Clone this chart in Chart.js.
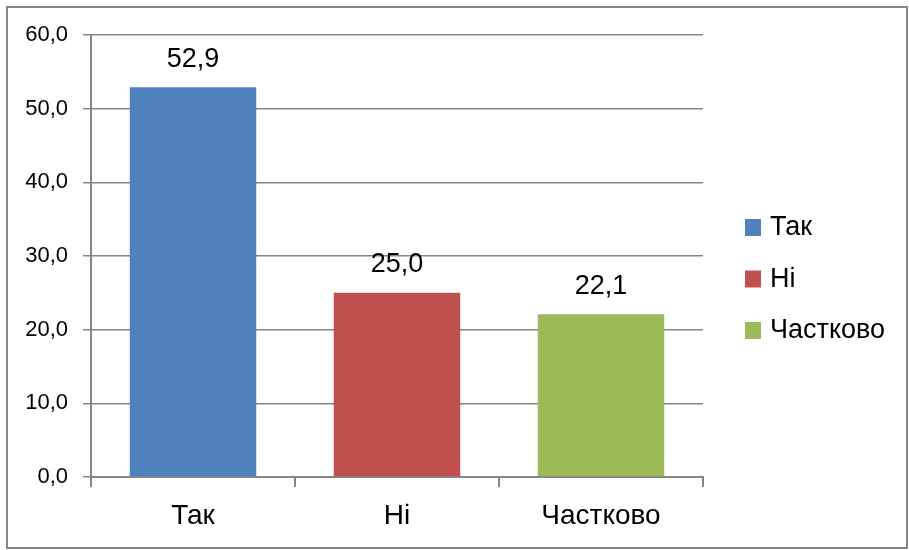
<!DOCTYPE html>
<html>
<head>
<meta charset="utf-8">
<script src="https://cdn.jsdelivr.net/npm/chart.js@4.4.0/dist/chart.umd.min.js"></script>
<style>
  html, body { margin: 0; padding: 0; background: #fff; }
  #wrap { width: 909px; height: 550px; position: relative; }
</style>
</head>
<body>
<div id="wrap"><canvas id="answersChart" width="909" height="550"></canvas></div>
<script>
// data
var categories = ['Так', 'Ні', 'Частково'];
var percentValues = [52.9, 25.0, 22.1];
var barColors = ['#4F81BD', '#C0504D', '#9BBB59'];
var yTicks = [0, 10, 20, 30, 40, 50, 60];

var FONT = '"Liberation Sans", Arial, sans-serif';
var GRID = '#868686';

function fmt(v) {
    return v.toFixed(1).replace('.', ',');
}

// frame, value labels, legend
var extras = {
    id: 'extras',
    beforeDraw: function (chart) {
        var c = chart.ctx;
        c.save();
        c.fillStyle = '#fff';
        c.fillRect(0, 0, chart.width, chart.height);
        c.strokeStyle = GRID;
        c.lineWidth = 2;
        c.strokeRect(7, 7, 900, 541);
        c.restore();
    },
    afterDatasetsDraw: function (chart) {
        var c = chart.ctx;
        var meta = chart.getDatasetMeta(0);
        c.save();
        c.font = '27px ' + FONT;
        c.fillStyle = '#000';
        c.textAlign = 'center';
        c.textBaseline = 'middle';
        meta.data.forEach(function (bar, i) {
            c.fillText(fmt(percentValues[i]), bar.x, bar.y - 28);
        });

        // legend
        c.font = '27px ' + FONT;
        c.textAlign = 'left';
        var y0 = 227, step = 51.5;
        categories.forEach(function (name, i) {
            var y = y0 + i * step;
            c.fillStyle = barColors[i];
            c.fillRect(745, y - 8, 16, 17);
            c.fillStyle = '#000';
            c.fillText(name, 770, y + 1);
        });
        c.restore();
    }
};

var ctx = document.getElementById('answersChart').getContext('2d');
var answersChart = new Chart(ctx, {
    type: 'bar',
    data: {
        labels: categories,
        datasets: [{
            data: percentValues,
            backgroundColor: barColors,
            categoryPercentage: 1,
            barPercentage: 0.62
        }]
    },
    options: {
        responsive: false,
        animation: false,
        layout: {
            padding: { left: 0, top: 35, right: 206, bottom: 0 }
        },
        scales: {
            x: {
                grid: {
                    display: true,
                    drawOnChartArea: false,
                    offset: true,
                    tickLength: 10,
                    color: GRID,
                    lineWidth: 2
                },
                border: { display: true, color: GRID, width: 2 },
                ticks: {
                    color: '#000',
                    padding: 12,
                    font: { family: FONT, size: 28 }
                },
                afterFit: function (s) { s.height = 73; }
            },
            y: {
                min: 0,
                max: 60,
                afterBuildTicks: function (s) {
                    s.ticks = yTicks.map(function (v) { return { value: v }; });
                },
                grid: {
                    color: GRID,
                    lineWidth: 1.5,
                    tickLength: 8
                },
                border: { display: true, color: GRID, width: 2 },
                ticks: {
                    color: '#000',
                    padding: 15,
                    font: { family: FONT, size: 22 },
                    callback: function (v) { return fmt(v); }
                },
                afterFit: function (s) { s.width = 91; }
            }
        },
        plugins: {
            legend: { display: false },
            tooltip: { enabled: false }
        }
    },
    plugins: [extras]
});
</script>
</body>
</html>
